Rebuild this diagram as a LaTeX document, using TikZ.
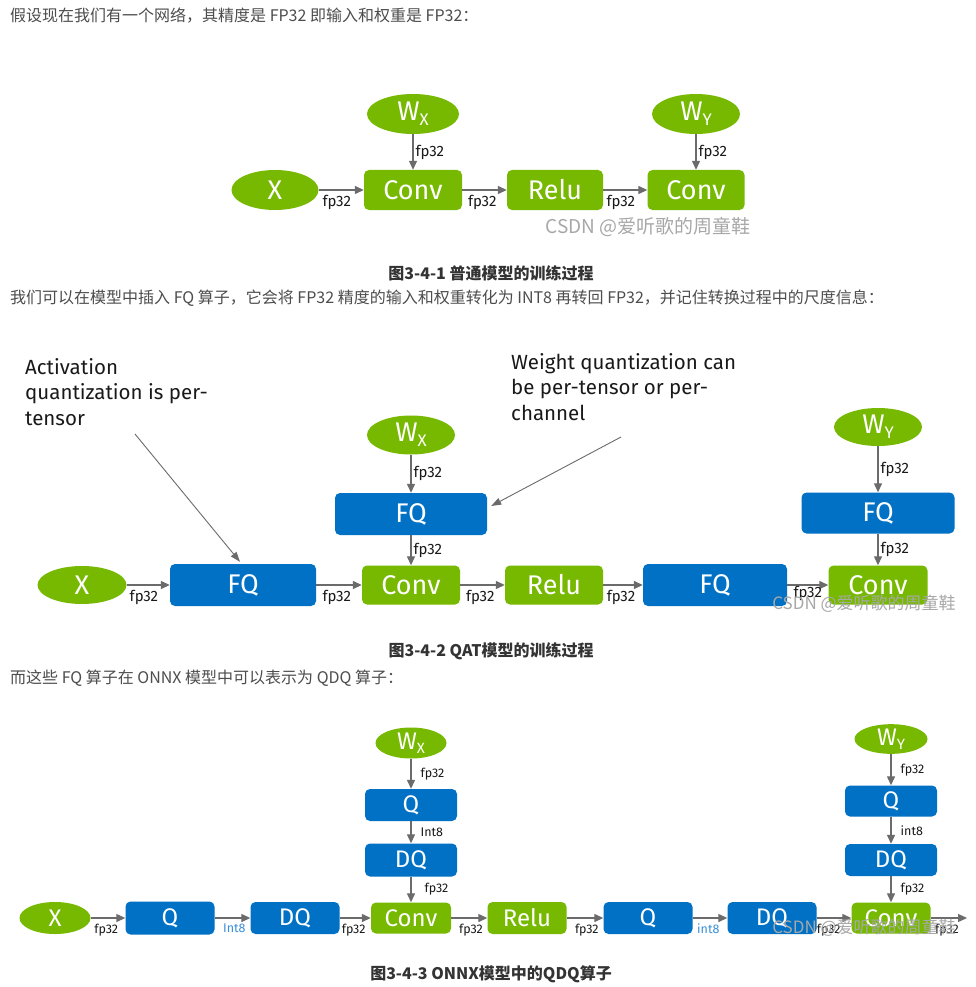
\documentclass[tikz,border=0pt]{standalone}
\usepackage{fontspec}
\setmainfont{Fira Sans}
\newfontfamily\cjk{Noto Sans CJK SC}
\usetikzlibrary{shapes.geometric, positioning, arrows.meta}

\definecolor{nvgreen}{HTML}{76B900}
\definecolor{nvblue}{HTML}{0071C5}
\definecolor{arrgray}{HTML}{6B6B6B}
\definecolor{bodygray}{HTML}{4D4D4D}
\definecolor{capgray}{HTML}{333333}
\definecolor{intblue}{HTML}{3A8FD8}
\definecolor{markgray}{HTML}{A8A8A8}

\newcommand{\wsub}[2]{#1\raisebox{-0.35ex}{\scalebox{0.62}{#2}}}

\tikzset{
  ell/.style={ellipse, fill=nvgreen, text=white, inner sep=0pt},
  gbox/.style={rectangle, rounded corners=5pt, fill=nvgreen, text=white, inner sep=0pt},
  bbox/.style={rectangle, rounded corners=5pt, fill=nvblue, text=white, inner sep=0pt},
  big/.style={font=\fontsize{27}{27}\selectfont},
  small/.style={font=\fontsize{24}{24}\selectfont},
  flow/.style={draw=arrgray, line width=1.3pt, -{Triangle[length=9pt,width=8pt]}},
  note/.style={draw=arrgray, line width=0.9pt, -{Triangle[length=10pt,width=7pt]}},
  notetext/.style={font=\fontsize{20.5}{25.5}\selectfont, text=black!90, inner sep=0pt, align=left, anchor=north west},
  lab/.style={font=\fontsize{15}{15}\selectfont, text=black!90, inner sep=1pt},
  slab/.style={font=\fontsize{12.5}{12.5}\selectfont, text=black!90, inner sep=1pt},
  body/.style={font=\cjk\fontsize{16}{16}\selectfont, text=bodygray, anchor=west, inner sep=0pt},
  caption/.style={font=\cjk\bfseries\fontsize{16}{16}\selectfont, text=capgray, inner sep=0pt},
  wmark/.style={font=\cjk\fontsize{17}{17}\selectfont, text=markgray, inner sep=0pt},
}

\begin{document}
\begin{tikzpicture}[x=1pt, y=-1pt]
  \fill[white] (0,0) rectangle (976,987);
  \useasboundingbox (0,0) rectangle (976,987);

  % Page text
  \node[body] (linea) at (10,16) {假设现在我们有一个网络，其精度是 FP32 即输入和权重是 FP32：};
  \node[caption] (capa) at (491,273) {图3-4-1 普通模型的训练过程};
  \node[body] (lineb) at (10,298) {我们可以在模型中插入 FQ 算子，它会将 FP32 精度的输入和权重转化为 INT8 再转回 FP32，并记住转换过程中的尺度信息：};
  \node[caption] (capb) at (491,651) {图3-4-2 QAT模型的训练过程};
  \node[body] (linec) at (10,678) {而这些 FQ 算子在 ONNX 模型中可以表示为 QDQ 算子：};
  \node[caption] (capc) at (491,974) {图3-4-3 ONNX模型中的QDQ算子};

  % Figure 3-4-1
  \node[ell, big, minimum width=87pt, minimum height=40pt] (xa) at (275,190) {X};
  \node[gbox, big, minimum width=98pt, minimum height=40pt] (conva) at (413,190) {Conv};
  \node[gbox, big, minimum width=96pt, minimum height=40pt] (relua) at (555,190) {Relu};
  \node[gbox, big, minimum width=97pt, minimum height=40pt] (convb) at (696,190) {Conv};
  \node[ell, big, minimum width=92pt, minimum height=40pt] (wxa) at (413,114) {\wsub{W}{X}};
  \node[ell, big, minimum width=88pt, minimum height=40pt] (wya) at (696,114) {\wsub{W}{Y}};
  \draw[flow] (xa) -- node[lab, below=4pt, pos=0.4] {fp32} (conva);
  \draw[flow] (conva) -- node[lab, below=4pt, pos=0.45] {fp32} (relua);
  \draw[flow] (relua) -- node[lab, below=4pt, pos=0.4] {fp32} (convb);
  \draw[flow] (wxa) -- node[lab, right=1pt] {fp32} (conva);
  \draw[flow] (wya) -- node[lab, right=1pt] {fp32} (convb);
  \node[wmark, font=\cjk\fontsize{19}{19}\selectfont] (marka) at (648,227) {CSDN @爱听歌的周童鞋};

  % Figure 3-4-2
  \node[notetext] (acttxt) at (25,358) {Activation\\quantization is per-\\tensor};
  \node[notetext] (wttxt) at (511,353) {Weight quantization can\\be per-tensor or per-\\channel};
  \node[ell, big, minimum width=89pt, minimum height=38pt] (xb) at (82,585) {X};
  \node[bbox, big, minimum width=146pt, minimum height=42pt] (fqa) at (243,585) {FQ};
  \node[gbox, big, minimum width=98pt, minimum height=39pt] (convc) at (411,585) {Conv};
  \node[gbox, big, minimum width=98pt, minimum height=39pt] (relub) at (554,585) {Relu};
  \node[bbox, big, minimum width=144pt, minimum height=42pt] (fqb) at (715,585) {FQ};
  \node[gbox, big, minimum width=99pt, minimum height=39pt] (convd) at (878,585) {Conv};
  \node[bbox, big, minimum width=152pt, minimum height=42pt] (fqw) at (411,514) {FQ};
  \node[ell, big, minimum width=88pt, minimum height=39pt] (wxb) at (411,435) {\wsub{W}{X}};
  \node[bbox, big, minimum width=153pt, minimum height=41pt] (fqy) at (878,513) {FQ};
  \node[ell, big, minimum width=88pt, minimum height=38pt] (wyb) at (878,427) {\wsub{W}{Y}};
  \draw[flow] (xb) -- node[lab, below=4pt, pos=0.4] {fp32} (fqa);
  \draw[flow] (fqa) -- node[lab, below=4pt, pos=0.45] {fp32} (convc);
  \draw[flow] (convc) -- node[lab, below=4pt, pos=0.45] {fp32} (relub);
  \draw[flow] (relub) -- node[lab, below=4pt, pos=0.45] {fp32} (fqb);
  \draw[flow] (fqb) -- node[lab, below=0pt, pos=0.5] {fp32} (convd);
  \draw[flow] (wxb) -- node[lab, right=1pt] {fp32} (fqw);
  \draw[flow] (fqw) -- node[lab, right=1pt] {fp32} (convc);
  \draw[flow] (wyb) -- node[lab, right=1pt] {fp32} (fqy);
  \draw[flow] (fqy) -- node[lab, right=1pt] {fp32} (convd);
  \coordinate (acttail) at (135,434);
  \coordinate (wttail) at (621,437);
  \draw[note] (acttail) -- ([shift={(-3,-2)}]fqa.north);
  \draw[note] (wttail) -- ([shift={(4,-8)}]fqw.east);
  \node[wmark] (markb) at (864,604) {CSDN @爱听歌的周童鞋};

  % Figure 3-4-3
  \node[ell, small, minimum width=71pt, minimum height=32pt] (xc) at (55,918) {X};
  \node[bbox, small, minimum width=89pt, minimum height=33pt] (qb) at (170,918) {Q};
  \node[bbox, small, minimum width=89pt, minimum height=32pt] (dqb) at (295,918) {DQ};
  \node[gbox, small, minimum width=80pt, minimum height=31pt] (conve) at (411,918) {Conv};
  \node[gbox, small, minimum width=79pt, minimum height=32pt] (reluc) at (527,918) {Relu};
  \node[bbox, small, minimum width=89pt, minimum height=32pt] (qc) at (648,918) {Q};
  \node[bbox, small, minimum width=89pt, minimum height=32pt] (dqc) at (772,918) {DQ};
  \node[gbox, small, minimum width=79pt, minimum height=31pt] (convf) at (891,918) {Conv};
  \coordinate (outc) at (967,918);
  \node[bbox, small, minimum width=92pt, minimum height=33pt] (dqa) at (411,860) {DQ};
  \node[bbox, small, minimum width=92pt, minimum height=32pt] (qa) at (411,805) {Q};
  \node[ell, small, minimum width=71pt, minimum height=31pt] (wxc) at (411,743) {\wsub{W}{X}};
  \node[bbox, small, minimum width=92pt, minimum height=32pt] (dqd) at (891,860) {DQ};
  \node[bbox, small, minimum width=92pt, minimum height=31pt] (qd) at (891,801) {Q};
  \node[ell, small, minimum width=73pt, minimum height=29pt] (wyc) at (891,739) {\wsub{W}{Y}};
  \draw[flow] (xc) -- node[slab, below=4pt, pos=0.45] {fp32} (qb);
  \draw[flow] (qb) -- node[slab, below=4pt, pos=0.55, text=intblue] {Int8} (dqb);
  \draw[flow] (dqb) -- node[slab, below=4pt, pos=0.45] {fp32} (conve);
  \draw[flow] (conve) -- node[slab, below=4pt, pos=0.55] {fp32} (reluc);
  \draw[flow] (reluc) -- node[slab, below=4pt, pos=0.55] {fp32} (qc);
  \draw[flow] (qc) -- node[slab, below=4pt, pos=0.45, text=intblue] {int8} (dqc);
  \draw[flow] (dqc) -- node[slab, below=4pt, pos=0.35] {fp32} (convf);
  \draw[flow] (convf) -- node[slab, below=4pt, pos=0.45] {fp32} (outc);
  \draw[flow] (wxc) -- node[slab, right=8pt] {fp32} (qa);
  \draw[flow] (qa) -- node[slab, right=8pt] {Int8} (dqa);
  \draw[flow] (dqa) -- node[slab, right=12pt] {fp32} (conve);
  \draw[flow] (wyc) -- node[slab, right=8pt] {fp32} (qd);
  \draw[flow] (qd) -- node[slab, right=8pt] {int8} (dqd);
  \draw[flow] (dqd) -- node[slab, right=8pt] {fp32} (convf);
  \node[wmark] (markc) at (864,928) {CSDN @爱听歌的周童鞋};
\end{tikzpicture}
\end{document}
